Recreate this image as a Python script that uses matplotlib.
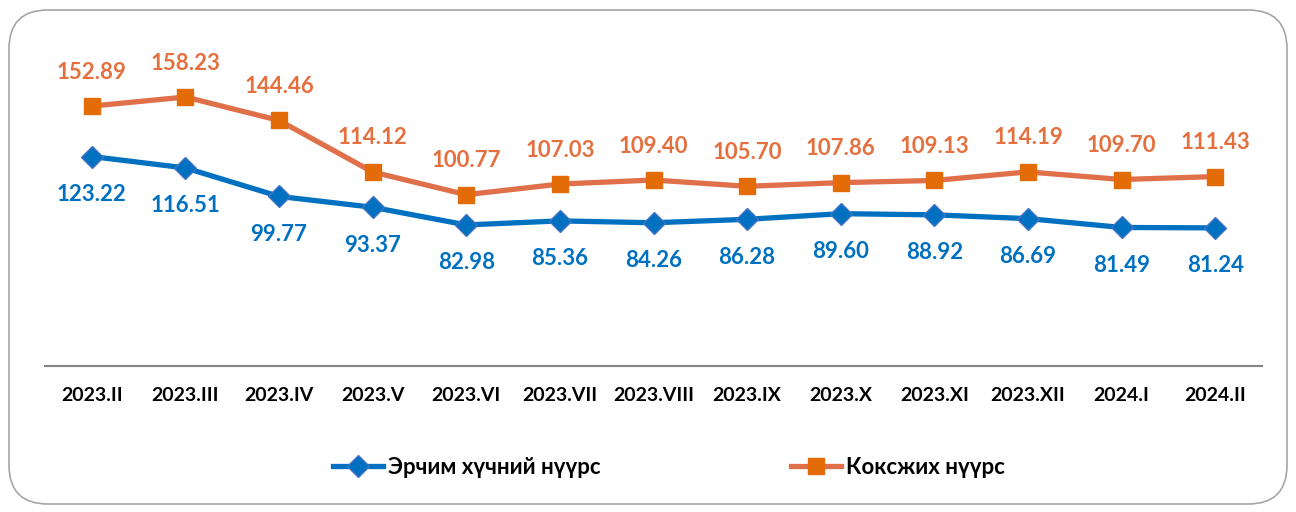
import matplotlib.pyplot as plt
from matplotlib.patches import FancyBboxPatch

months = ["2023.II", "2023.III", "2023.IV", "2023.V", "2023.VI", "2023.VII", "2023.VIII",
          "2023.IX", "2023.X", "2023.XI", "2023.XII", "2024.I", "2024.II"]
energy = [123.22, 116.51, 99.77, 93.37, 82.98, 85.36, 84.26, 86.28, 89.60, 88.92, 86.69, 81.49, 81.24]
coking = [152.89, 158.23, 144.46, 114.12, 100.77, 107.03, 109.40, 105.70, 107.86, 109.13, 114.19, 109.70, 111.43]
names = ["Эрчим хүчний нүүрс", "Коксжих нүүрс"]

plt.rcParams['font.family'] = ['Lato', 'Open Sans', 'DejaVu Sans']

fig = plt.figure(figsize=(12.96, 5.12), dpi=100)
ax = fig.add_axes([45 / 1296, 1 - 366 / 512, 1217 / 1296, 306 / 512])

# rounded frame around the chart
frame = FancyBboxPatch((9 / 1296, 8 / 512), 1278 / 1296, 494 / 512,
                       boxstyle="round,pad=0,rounding_size=0.03", transform=fig.transFigure,
                       facecolor="none", edgecolor="#a6a6a6", linewidth=1.2, mutation_aspect=1296 / 512)
fig.patches.append(frame)

x = list(range(len(months)))
ax.plot(x, energy, color="#0070c0", lw=3.8, marker="D", ms=11, mfc="#0070c0",
        mec="#4472c4", mew=1, label=names[0], zorder=3)
ax.plot(x, coking, color="#e0704a", lw=3.8, marker="s", ms=12, mfc="#e36c09",
        mec="#e36c09", label=names[1], zorder=3)

for i in x:
    ax.annotate(f"{energy[i]:.2f}", (i, energy[i]), xytext=(0, -38), textcoords="offset pixels",
                ha="center", va="center", fontsize=16, fontweight="bold", color="#0070c0")
    ax.annotate(f"{coking[i]:.2f}", (i, coking[i]), xytext=(0, 34), textcoords="offset pixels",
                ha="center", va="center", fontsize=16, fontweight="bold", color="#e5703f")

ax.set_xlim(-0.5, len(months) - 0.5)
ax.set_ylim(0, 180)
ax.set_xticks(x)
ax.set_xticklabels(months, fontsize=14, fontweight="bold")
ax.tick_params(axis="x", length=0, pad=15)
ax.set_yticks([])
for s in ["top", "right", "left"]:
    ax.spines[s].set_visible(False)
ax.spines["bottom"].set_color("#868686")
ax.spines["bottom"].set_linewidth(1.5)

fig.legend(loc="center", bbox_to_anchor=(669 / 1296, 1 - 467 / 512), ncol=2, frameon=False,
           prop={"size": 16, "weight": "bold"}, handlelength=2.25, handletextpad=0.2,
           columnspacing=8.6)

fig.savefig("out.png", dpi=100)
